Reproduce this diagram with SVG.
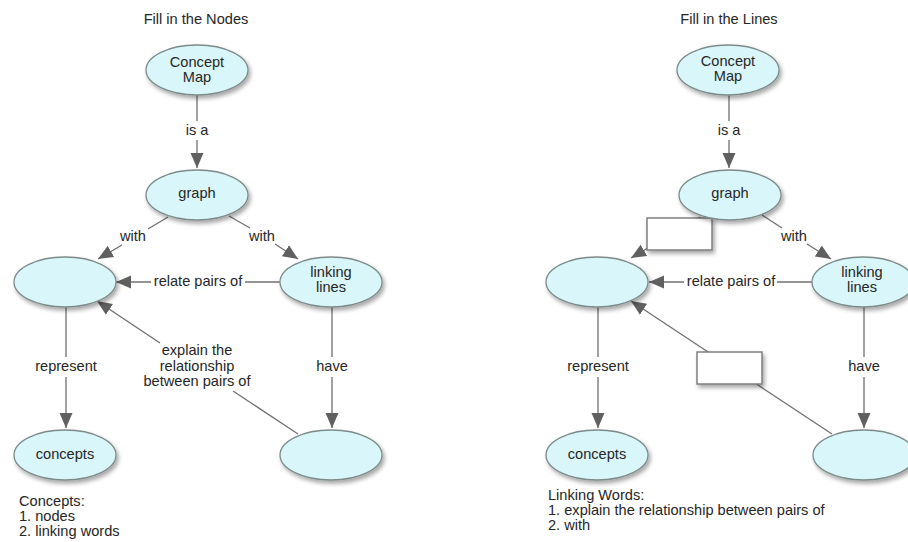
<svg xmlns="http://www.w3.org/2000/svg" width="908" height="542" viewBox="0 0 908 542">
<style>
text{font-family:"Liberation Sans",Arial,Helvetica,sans-serif;font-size:14.6px;fill:#262626;}
.c{text-anchor:middle;}
.node ellipse{fill:#d9f7fa;stroke:#7d8a8a;stroke-width:1.3;filter:url(#sh);}
.box{fill:#ffffff;stroke:#777;stroke-width:1.4;filter:url(#sh);}
.ln{stroke:#707070;stroke-width:1.3;fill:none;}
.arr{marker-end:url(#ah);}
</style>
<defs>
<filter id="sh" x="-20%" y="-30%" width="150%" height="170%">
<feDropShadow dx="2" dy="3" stdDeviation="2" flood-color="#000" flood-opacity="0.35"/>
</filter>
<marker id="ah" markerUnits="userSpaceOnUse" markerWidth="16" markerHeight="14" viewBox="0 0 16 14" refX="15" refY="7" orient="auto">
<path d="M0,0.5 L15,7 L0,13.5 z" fill="#606060"/>
</marker>
</defs>
<rect width="908" height="542" fill="#ffffff"/>

<text class="c" x="196" y="24">Fill in the Nodes</text>
<text class="c" x="729" y="24">Fill in the Lines</text>

<g id="connectors">
<!-- left panel -->
<line class="ln" x1="197" y1="95" x2="197" y2="121"/>
<line class="ln arr" x1="197" y1="140" x2="197" y2="168"/>
<line class="ln" x1="168" y1="217" x2="148" y2="229"/>
<line class="ln arr" x1="122" y1="245" x2="98" y2="259"/>
<line class="ln" x1="229" y1="216" x2="250" y2="228"/>
<line class="ln arr" x1="275" y1="244" x2="298" y2="259"/>
<line class="ln" x1="280" y1="282" x2="245" y2="282"/>
<line class="ln arr" x1="151" y1="282" x2="116" y2="282"/>
<line class="ln" x1="66" y1="307" x2="66" y2="357"/>
<line class="ln arr" x1="66" y1="377" x2="66" y2="428"/>
<line class="ln" x1="332" y1="307" x2="332" y2="357"/>
<line class="ln arr" x1="332" y1="377" x2="332" y2="428"/>
<line class="ln" x1="298" y1="434" x2="233" y2="391"/>
<line class="ln arr" x1="160" y1="343" x2="97" y2="301"/>
<!-- right panel -->
<line class="ln" x1="729" y1="95" x2="729" y2="121"/>
<line class="ln arr" x1="729" y1="140" x2="729" y2="168"/>
<line class="ln arr" x1="700" y1="217" x2="631" y2="258"/>
<line class="ln" x1="762" y1="215" x2="782" y2="228"/>
<line class="ln arr" x1="807" y1="244" x2="831" y2="259"/>
<line class="ln" x1="812" y1="282" x2="777" y2="282"/>
<line class="ln arr" x1="684" y1="282" x2="649" y2="282"/>
<line class="ln" x1="598" y1="307" x2="598" y2="357"/>
<line class="ln arr" x1="598" y1="377" x2="598" y2="428"/>
<line class="ln" x1="864" y1="307" x2="864" y2="357"/>
<line class="ln arr" x1="864" y1="377" x2="864" y2="428"/>
<line class="ln arr" x1="832" y1="434" x2="631" y2="301"/>
</g>

<g id="labels">
<text class="c" x="197" y="135">is a</text>
<text class="c" x="133" y="241">with</text>
<text class="c" x="262" y="241">with</text>
<text class="c" x="198" y="286">relate pairs of</text>
<text class="c" x="66" y="371">represent</text>
<text class="c" x="332" y="371">have</text>
<text class="c" x="197" y="355">explain the</text>
<text class="c" x="197" y="371">relationship</text>
<text class="c" x="197" y="386">between pairs of</text>

<text class="c" x="729" y="135">is a</text>
<text class="c" x="794" y="241">with</text>
<text class="c" x="731" y="286">relate pairs of</text>
<text class="c" x="598" y="371">represent</text>
<text class="c" x="864" y="371">have</text>
</g>

<g id="box-with">
<rect class="box" x="647" y="218" width="65" height="32"/>
</g>
<g id="box-explain">
<rect class="box" x="697" y="352" width="65" height="32"/>
</g>

<g id="L-concept-map" class="node"><ellipse cx="197" cy="70" rx="51" ry="25"/><text class="c" x="197" y="67">Concept</text><text class="c" x="197" y="82">Map</text></g>
<g id="L-graph" class="node"><ellipse cx="197" cy="195" rx="51" ry="25"/><text class="c" x="197" y="198">graph</text></g>
<g id="L-blank-1" class="node"><ellipse cx="65" cy="282" rx="51" ry="25"/></g>
<g id="L-linking-lines" class="node"><ellipse cx="331" cy="282" rx="51" ry="25"/><text class="c" x="331" y="277">linking</text><text class="c" x="331" y="292">lines</text></g>
<g id="L-concepts" class="node"><ellipse cx="65" cy="455" rx="51" ry="25"/><text class="c" x="65" y="459">concepts</text></g>
<g id="L-blank-2" class="node"><ellipse cx="331" cy="455" rx="51" ry="25"/></g>

<g id="R-concept-map" class="node"><ellipse cx="728" cy="70" rx="51" ry="25"/><text class="c" x="728" y="66">Concept</text><text class="c" x="728" y="81">Map</text></g>
<g id="R-graph" class="node"><ellipse cx="730" cy="195" rx="51" ry="25"/><text class="c" x="730" y="198">graph</text></g>
<g id="R-blank-1" class="node"><ellipse cx="597" cy="282" rx="51" ry="25"/></g>
<g id="R-linking-lines" class="node"><ellipse cx="863" cy="282" rx="51" ry="25"/><text class="c" x="862" y="277">linking</text><text class="c" x="862" y="292">lines</text></g>
<g id="R-concepts" class="node"><ellipse cx="597" cy="455" rx="51" ry="25"/><text class="c" x="597" y="459">concepts</text></g>
<g id="R-blank-2" class="node"><ellipse cx="864" cy="455" rx="51" ry="25"/></g>

<g id="notes">
<text x="19" y="506">Concepts:</text>
<text x="19" y="521">1. nodes</text>
<text x="19" y="536">2. linking words</text>
<text x="548" y="500">Linking Words:</text>
<text x="548" y="515">1. explain the relationship between pairs of</text>
<text x="548" y="530">2. with</text>
</g>
</svg>
